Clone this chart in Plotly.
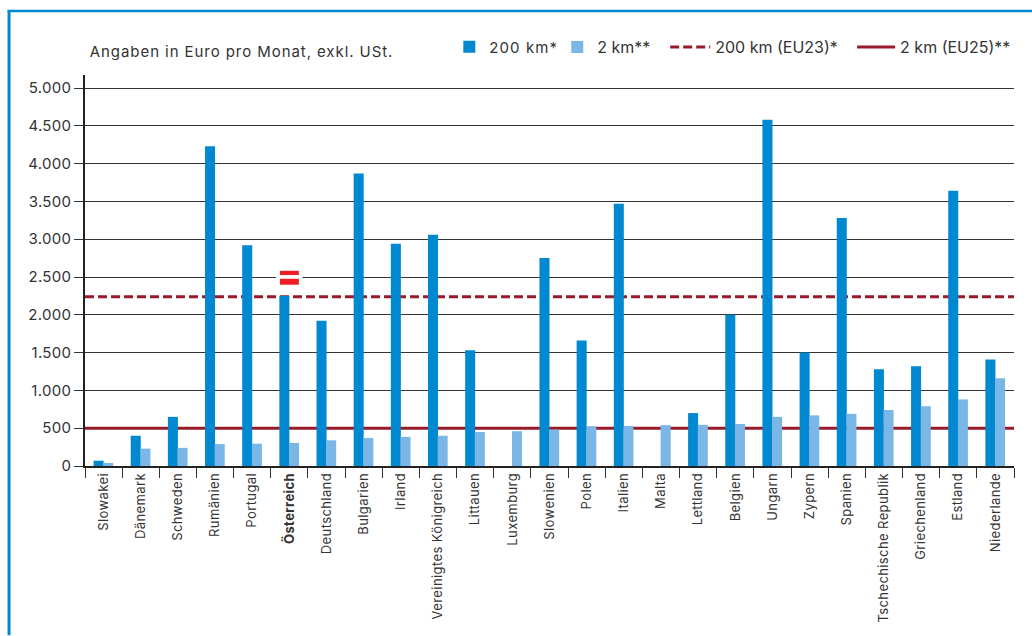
import plotly.graph_objects as go

categories = ["Slowakei", "Dänemark", "Schweden", "Rumänien", "Portugal", "<b>Österreich</b>",
              "Deutschland", "Bulgarien", "Irland", "Vereinigtes Königreich", "Littauen", "Luxemburg",
              "Slowenien", "Polen", "Italien", "Malta", "Lettland", "Belgien", "Ungarn", "Zypern",
              "Spanien", "Tschechische Republik", "Griechenland", "Estland", "Niederlande"]
km200 = [70, 400, 650, 4230, 2920, 2250, 1920, 3870, 2940, 3060, 1530, None, 2750, 1660, 3470, None,
         700, 2000, 4580, 1500, 3280, 1280, 1320, 3640, 1410]
km2 = [40, 230, 240, 290, 295, 305, 340, 370, 385, 400, 450, 460, 480, 525, 530, 540, 545, 555,
       650, 670, 690, 740, 790, 880, 1160]
eu23_200km = 2240
eu25_2km = 500
y_ticks = [0, 500, 1000, 1500, 2000, 2500, 3000, 3500, 4000, 4500, 5000]
y_labels = ["0", "500", "1.000", "1.500", "2.000", "2.500", "3.000", "3.500", "4.000", "4.500", "5.000"]

BLUE, LIGHT, RED, TXT = "#0088d0", "#7ab6e6", "#981b2b", "#333333"
FONT = "Inter"
L, R, T, B = 84.5, 1014, 75, 466.5
def px(x): return (x - L) / (R - L)
def py(y): return (B - y) / (B - T)

fig = go.Figure()
fig.add_trace(go.Scatter(x=[0, 1], y=[eu23_200km] * 2, mode="lines", name="200 km (EU23)*",
                         line=dict(color=RED, width=3, dash="9px,4px"), legend="legend3",
                         xaxis="x", yaxis="y"))
fig.add_trace(go.Scatter(x=[0, 1], y=[eu25_2km] * 2, mode="lines", name="2 km (EU25)**",
                         line=dict(color=RED, width=3), legend="legend4", xaxis="x", yaxis="y"))
fig.add_trace(go.Bar(x=categories, y=km200, name="200 km*", marker=dict(color=BLUE, line_width=0),
                     width=0.27, offset=-0.27, legend="legend", xaxis="x2", yaxis="y"))
fig.add_trace(go.Bar(x=categories, y=km2, name="2 km**", marker=dict(color=LIGHT, line_width=0),
                     width=0.27, offset=-0.01, legend="legend2", xaxis="x2", yaxis="y"))

def leg(x, w, size=15):
    return dict(x=px(x), y=py(47), xanchor="left", yanchor="middle", orientation="h", itemwidth=w,
                bgcolor="rgba(0,0,0,0)", font=dict(family=FONT, size=size, color=TXT), traceorder="normal",
                itemclick=False, itemdoubleclick=False)

shapes = [
    dict(type="line", xref="paper", yref="paper", x0=px(7), x1=px(1032), y0=py(11), y1=py(11),
         line=dict(color=BLUE, width=2.5), layer="below"),
    dict(type="line", xref="paper", yref="paper", x0=px(8.5), x1=px(8.5), y0=py(10), y1=py(636),
         line=dict(color=BLUE, width=3), layer="below"),
    dict(type="rect", xref="x2", yref="y", x0=4.64, x1=5.35, y0=2330, y1=2590, line_width=0,
         fillcolor="white", layer="above"),
    dict(type="rect", xref="x2", yref="y", x0=4.745, x1=5.255, y0=2398, y1=2477, line_width=0,
         fillcolor="#ee1c25", layer="above"),
    dict(type="rect", xref="x2", yref="y", x0=4.745, x1=5.255, y0=2526, y1=2582, line_width=0,
         fillcolor="#ee1c25", layer="above"),
]

fig.update_layout(
    width=1032, height=636, autosize=False, showlegend=True,
    margin=dict(l=L, r=1032 - R, t=T, b=636 - B, pad=0),
    paper_bgcolor="white", plot_bgcolor="white",
    font=dict(family=FONT, color=TXT),
    barmode="overlay",
    legend=leg(449, 30), legend2=leg(557, 30, 16), legend3=leg(665, 40, 16), legend4=leg(852, 38, 16),
    xaxis=dict(type="linear", range=[0, 1], visible=False),
    xaxis2=dict(type="category", overlaying="x", anchor="y", side="bottom", range=[-0.5, 24.5],
                categoryorder="array", categoryarray=categories, tickson="boundaries",
                tickangle=-90, ticks="outside", ticklen=10, tickcolor="#333333", tickwidth=1,
                showline=True, linecolor="#222222", linewidth=1.5, showgrid=False,
                tickfont=dict(family=FONT, size=13, color=TXT)),
    yaxis=dict(range=[0, 5172], tickvals=y_ticks, ticktext=y_labels, ticks="outside", ticklen=9,
               tickcolor="#333333", showline=True, linecolor="#222222", linewidth=1.5,
               showgrid=True, gridcolor="#333333", gridwidth=1, zeroline=False,
               tickfont=dict(family=FONT, size=15, color=TXT)),
    shapes=shapes,
    annotations=[dict(text="Angaben in Euro pro Monat, exkl. USt.", xref="paper", yref="paper",
                      x=px(105), y=py(51), xanchor="left", yanchor="middle", showarrow=False,
                      font=dict(family=FONT, size=15, color=TXT))],
)
css = ("document.body.style.margin='0';"
       "var s=document.createElement('style');"
       "s.textContent='.legendtext{letter-spacing:1.1px}.annotation-text{letter-spacing:.93px}"
       ".x2tick text,.xtick text{letter-spacing:.4px}.ytick text{letter-spacing:.3px}';"
       "document.head.appendChild(s);")
fig.write_html("out.html", post_script=css, config={"displayModeBar": False})
